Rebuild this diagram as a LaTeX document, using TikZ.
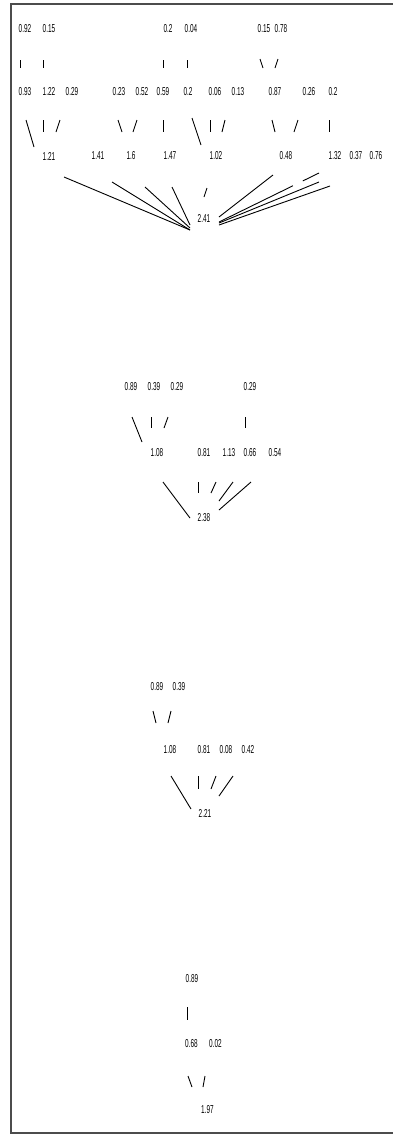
\documentclass[tikz,border=0pt]{standalone}
\usepackage{fontspec}
\newfontfamily\numfont[FakeStretch=0.56]{Liberation Sans}
\usetikzlibrary{calc}

\begin{document}
\begin{tikzpicture}[x=1pt,y=-1pt,
		val/.style={font=\numfont\fontsize{11.5}{13}\selectfont,inner sep=0pt},
		edge/.style={line width=0.9pt},
		frame/.style={draw=black!70,line width=1.1pt}]
		\useasboundingbox (0,0) rectangle (393,1136);
		\draw[frame] (393,4) -- (11,4) -- (11,1133) -- (393,1133);
		% first tree
		\foreach \n/\x/\lbl in {p1/25/0.92,p2/49/0.15,p3/168/0.2,p4/191/0.04,p5/264/0.15,p6/281/0.78}
			\node[val] (\n) at (\x,28.5) {\lbl};
		\foreach \n/\x/\lbl in {q1/25/0.93,q2/49/1.22,q3/72/0.29,q4/119/0.23,q5/142/0.52,q6/163/0.59,
			q7/188/0.2,q8/215/0.06,q9/238/0.13,q10/275/0.87,q11/309/0.26,q12/333/0.2}
			\node[val] (\n) at (\x,91.5) {\lbl};
		\foreach \n/\x/\lbl in {s1/49/1.21,s2/98/1.41,s3/131/1.6,s4/170/1.47,s5/216/1.02,
			s6/286/0.48,s7/335/1.32,s8/356/0.37,s9/376/0.76}
			\node[val] (\n) at (\x,156) {\lbl};
		\node[val] (r1) at (204,218) {2.41};
		\draw[edge] ($(p1)+(-5,31.5)$) -- ($(q1)+(-5,-23.5)$);
		\draw[edge] ($(p2)+(-6,31.5)$) -- ($(q2)+(-6,-23.5)$);
		\draw[edge] ($(p3)+(-5,31.5)$) -- ($(q6)+(0,-23.5)$);
		\draw[edge] ($(p4)+(-4,31.5)$) -- ($(q7)+(-1,-23.5)$);
		\draw[edge] ($(p5)+(-4,30.5)$) -- ($(q10)+(-12,-23.5)$);
		\draw[edge] ($(p6)+(-3,30.5)$) -- ($(q10)+(0,-23.5)$);
		\draw[edge] ($(q1)+(1,28.5)$) -- ($(s1)+(-15,-9)$);
		\draw[edge] ($(q2)+(-6,28.5)$) -- ($(s1)+(-6,-24)$);
		\draw[edge] ($(q3)+(-12,28.5)$) -- ($(s1)+(7,-24)$);
		\draw[edge] ($(q4)+(-1,28.5)$) -- ($(s3)+(-9,-24)$);
		\draw[edge] ($(q5)+(-5,28.5)$) -- ($(s3)+(2,-24)$);
		\draw[edge] ($(q6)+(0,28.5)$) -- ($(s4)+(-7,-24)$);
		\draw[edge] ($(q7)+(4,26.5)$) -- ($(s5)+(-15,-11)$);
		\draw[edge] ($(q8)+(-5,28.5)$) -- ($(s5)+(-6,-24)$);
		\draw[edge] ($(q9)+(-13,28.5)$) -- ($(s5)+(6,-24)$);
		\draw[edge] ($(q10)+(-3,28.5)$) -- ($(s6)+(-11,-24)$);
		\draw[edge] ($(q11)+(-11,28.5)$) -- ($(s6)+(8,-24)$);
		\draw[edge] ($(q12)+(-4,28.5)$) -- ($(s7)+(-6,-24)$);
		\draw[edge] ($(s1)+(15,21)$) -- ($(r1)+(-14,12)$);
		\draw[edge] ($(s2)+(14,26)$) -- ($(r1)+(-14,12)$);
		\draw[edge] ($(s3)+(14,31)$) -- ($(r1)+(-14,10)$);
		\draw[edge] ($(s4)+(2,31)$) -- ($(r1)+(-14,7)$);
		\draw[edge] ($(s5)+(-9,32)$) -- ($(r1)+(0,-21)$);
		\draw[edge] ($(s6)+(-13,19)$) -- ($(r1)+(15,-1)$);
		\draw[edge,dash pattern=on 18pt off 11pt on 120pt] ($(s7)+(-16,17)$) -- ($(r1)+(15,4)$);
		\draw[edge] ($(s8)+(-37,26)$) -- ($(r1)+(15,5)$);
		\draw[edge] ($(s9)+(-46,30)$) -- ($(r1)+(15,7)$);
		% second tree
		\foreach \n/\x/\lbl in {u1/131/0.89,u2/154/0.39,u3/177/0.29,u4/250/0.29}
			\node[val] (\n) at (\x,387) {\lbl};
		\foreach \n/\x/\lbl in {n1/157/1.08,n2/204/0.81,n3/229/1.13,n4/250/0.66,n5/275/0.54}
			\node[val] (\n) at (\x,453) {\lbl};
		\node[val] (r2) at (204,518) {2.38};
		\draw[edge] ($(u1)+(1,30)$) -- ($(n1)+(-15,-11)$);
		\draw[edge] ($(u2)+(-3,30)$) -- ($(n1)+(-6,-25)$);
		\draw[edge] ($(u3)+(-9,30)$) -- ($(n1)+(7,-25)$);
		\draw[edge] ($(u4)+(-5,30)$) -- ($(n4)+(-5,-25)$);
		\draw[edge] ($(n1)+(6,29)$) -- ($(r2)+(-14,0)$);
		\draw[edge] ($(n2)+(-6,29)$) -- ($(r2)+(-6,-25)$);
		\draw[edge] ($(n3)+(-13,29)$) -- ($(r2)+(7,-25)$);
		\draw[edge] ($(n4)+(-17,29)$) -- ($(r2)+(15,-17)$);
		\draw[edge] ($(n5)+(-24,29)$) -- ($(r2)+(15,-8)$);
		% third tree
		\foreach \n/\x/\lbl in {v1/157/0.89,v2/179/0.39}
			\node[val] (\n) at (\x,687) {\lbl};
		\foreach \n/\x/\lbl in {w1/170/1.08,w2/204/0.81,w3/226/0.08,w4/248/0.42}
			\node[val] (\n) at (\x,750) {\lbl};
		\node[val] (r3) at (205,813) {2.21};
		\draw[edge] ($(v1)+(-4,24)$) -- ($(w1)+(-14,-27)$);
		\draw[edge] ($(v2)+(-8,24)$) -- ($(w1)+(-2,-27)$);
		\draw[edge] ($(w1)+(1,26)$) -- ($(r3)+(-14,-4)$);
		\draw[edge] ($(w2)+(-6,26)$) -- ($(r3)+(-7,-24)$);
		\draw[edge] ($(w3)+(-10,26)$) -- ($(r3)+(6,-24)$);
		\draw[edge] ($(w4)+(-15,26)$) -- ($(r3)+(14,-17)$);
		% fourth tree
		\node[val] (x1) at (192,979) {0.89};
		\node[val] (y1) at (191.5,1044) {0.68};
		\node[val] (y2) at (215.5,1044) {0.02};
		\node[val] (r4) at (207.5,1109.5) {1.97};
		\draw[edge] ($(x1)+(-5,28)$) -- ($(y1)+(-4.5,-24)$);
		\draw[edge] ($(y1)+(-3.5,32)$) -- ($(r4)+(-15.5,-22.5)$);
		\draw[edge] ($(y2)+(-10.5,32)$) -- ($(r4)+(-4.5,-22.5)$);
\end{tikzpicture}
\end{document}
